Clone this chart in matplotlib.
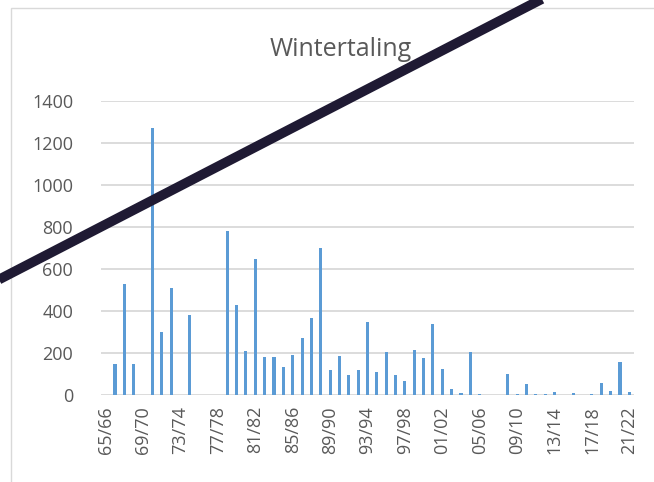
import matplotlib
matplotlib.use("Agg")
import matplotlib.pyplot as plt
from matplotlib.patches import Rectangle
from matplotlib.lines import Line2D

plt.rcParams['font.family'] = ['Open Sans', 'DejaVu Sans']

seasons = ["65/66", "66/67", "67/68", "68/69", "69/70", "70/71", "71/72", "72/73",
           "73/74", "74/75", "75/76", "76/77", "77/78", "78/79", "79/80", "80/81",
           "81/82", "82/83", "83/84", "84/85", "85/86", "86/87", "87/88", "88/89",
           "89/90", "90/91", "91/92", "92/93", "93/94", "94/95", "95/96", "96/97",
           "97/98", "98/99", "99/00", "00/01", "01/02", "02/03", "03/04", "04/05",
           "05/06", "06/07", "07/08", "08/09", "09/10", "10/11", "11/12", "12/13",
           "13/14", "14/15", "15/16", "16/17", "17/18", "18/19", "19/20", "20/21",
           "21/22"]
counts = [0, 150, 530, 150, 0, 1270, 300, 510, 0, 380, 0, 0, 0, 780, 430, 210,
          650, 180, 180, 135, 190, 270, 365, 700, 120, 185, 95, 120, 350, 110,
          205, 95, 65, 215, 175, 340, 125, 28, 8, 206, 3, 0, 0, 100, 3, 53, 3, 6,
          13, 0, 8, 0, 3, 58, 19, 158, 16]
y_ticks = [0, 200, 400, 600, 800, 1000, 1200, 1400]
title = "Wintertaling"

W, H = 654, 482
fig = plt.figure(figsize=(W / 100, H / 100), dpi=100)

# chart border (partially visible)
fig.patches.append(Rectangle((11 / W, -0.2), 1.5, 1.2 - 8 / H, transform=fig.transFigure,
                             fill=False, edgecolor="#D9D9D9", linewidth=1.0, zorder=0))

ax = fig.add_axes([101 / W, 1 - 395 / H, (634 - 101) / W, (395 - 101) / H])
x = list(range(len(seasons)))
ax.bar(x, counts, width=0.33, color="#5B9BD5", zorder=3)
ax.set_xlim(-0.5, len(seasons) - 0.5)
ax.set_ylim(0, 1400)
ax.set_yticks(y_ticks)
ax.set_yticklabels([str(v) for v in y_ticks])
ax.yaxis.grid(True, color="#D9D9D9", linewidth=1.3)
ax.set_axisbelow(True)
for s in ax.spines.values():
    s.set_visible(False)
ax.set_xticks(x[::4])
ax.set_xticklabels(seasons[::4], rotation=90)
ax.tick_params(axis="both", length=0, colors="#595959", labelsize=13)
ax.tick_params(axis="y", pad=20)
ax.tick_params(axis="x", pad=8)

fig.text(341 / W, 1 - 49 / H, title, ha="center", va="center", fontsize=18,
         color="#595959")

# thick diagonal line across the figure
x0, y0 = 0.0, 279.0
x1, y1 = 540.0, 0.0
slope = (y1 - y0) / (x1 - x0)
xa, xb = -20.0, 600.0
ya, yb = y0 + slope * (xa - x0), y0 + slope * (xb - x0)
fig.lines.append(Line2D([xa / W, xb / W], [1 - ya / H, 1 - yb / H],
                        transform=fig.transFigure, color="#1F1A33",
                        linewidth=7, solid_capstyle="butt", zorder=10))

fig.savefig("out.png", dpi=100)
